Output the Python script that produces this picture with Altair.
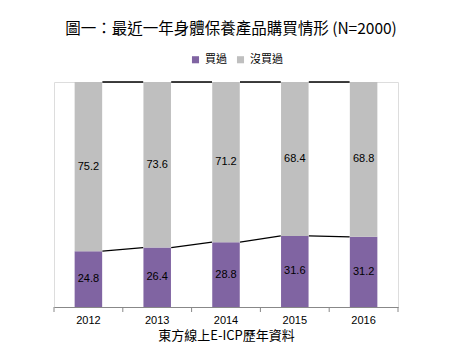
import altair as alt
import pandas as pd

years = ["2012", "2013", "2014", "2015", "2016"]
bought = [24.8, 26.4, 28.8, 31.6, 31.2]
not_bought = [75.2, 73.6, 71.2, 68.4, 68.8]
series = ["買過", "沒買過"]
colors = ["#8064A2", "#BFBFBF"]

rows = []
for i, y in enumerate(years):
    rows.append({"year": y, "series": series[0], "order": 0, "value": bought[i],
                 "lo": 0, "hi": bought[i], "mid": bought[i] / 2})
    rows.append({"year": y, "series": series[1], "order": 1, "value": not_bought[i],
                 "lo": bought[i], "hi": bought[i] + not_bought[i],
                 "mid": bought[i] + not_bought[i] / 2})
df = pd.DataFrame(rows)

segs = []
for i in range(len(years) - 1):
    segs.append({"a": years[i], "b": years[i + 1], "ya": bought[i], "yb": bought[i + 1]})
    segs.append({"a": years[i], "b": years[i + 1],
                 "ya": bought[i] + not_bought[i], "yb": bought[i + 1] + not_bought[i + 1]})
seg_df = pd.DataFrame(segs)
tick_df = pd.DataFrame({"year": years})

FONT = "Liberation Sans"
xscale = alt.Scale(domain=years, paddingInner=0.6, paddingOuter=0.3)
yscale = alt.Scale(domain=[0, 100])

bars = alt.Chart(df).mark_bar().encode(
    x=alt.X("year:N", scale=xscale,
            axis=alt.Axis(title="東方線上E-ICP歷年資料", labelAngle=0, ticks=False,
                          domainColor="#888888", labelFont=FONT, labelFontSize=11,
                          labelColor="#000000", labelPadding=7, titleFont="Noto Sans CJK TC",
                          titleFontSize=13, titleFontWeight="normal", titleColor="#000000",
                          titlePadding=4)),
    y=alt.Y("lo:Q", scale=yscale, axis=None),
    y2="hi:Q",
    color=alt.Color("series:N", scale=alt.Scale(domain=series, range=colors),
                    legend=alt.Legend(title=None, orient="none", direction="horizontal",
                                      legendX=136, legendY=-28, symbolType="square",
                                      symbolSize=50, labelFont="Noto Sans CJK TC",
                                      labelFontSize=11, columnPadding=8, symbolOpacity=1,
                                      symbolStrokeWidth=0)),
)

labels = alt.Chart(df).mark_text(font=FONT, fontSize=11, color="#000000").encode(
    x=alt.X("year:N", scale=xscale),
    y=alt.Y("mid:Q", scale=yscale),
    text=alt.Text("value:Q", format=".1f"),
)

lines = alt.Chart(seg_df).mark_rule(color="#000000", strokeWidth=1.3, xOffset=14, x2Offset=-14).encode(
    x=alt.X("a:N", scale=xscale),
    x2="b:N",
    y=alt.Y("ya:Q", scale=yscale),
    y2="yb:Q",
)

ticks = alt.Chart(tick_df).mark_rule(color="#888888", xOffset=-34.4).encode(
    x=alt.X("year:N", scale=xscale),
    y=alt.value(225),
    y2=alt.value(230),
)
last_tick = alt.Chart(pd.DataFrame({"year": [years[-1]]})).mark_rule(color="#888888", xOffset=34.4).encode(
    x=alt.X("year:N", scale=xscale),
    y=alt.value(225),
    y2=alt.value(230),
)

chart = alt.layer(bars, labels, lines, ticks, last_tick).properties(
    width=344,
    height=225,
    title=alt.TitleParams("圖一：最近一年身體保養產品購買情形 (N=2000)", font="Noto Sans CJK TC",
                          fontSize=15.5, fontWeight="normal", color="#000000", anchor="middle",
                          offset=17, dx=5),
    padding={"left": 54, "top": 82, "right": 63, "bottom": 38},
    autosize=alt.AutoSizeParams(type="none"),
).configure_view(stroke=None).configure(background="white")

chart.save("out.html", embed_options={"renderer": "svg", "actions": False})
